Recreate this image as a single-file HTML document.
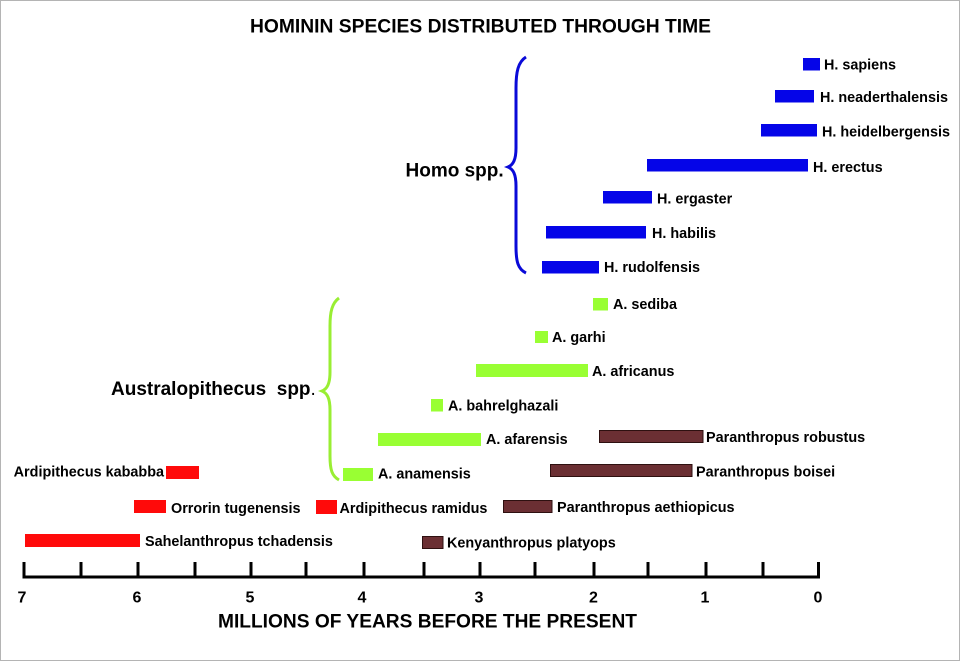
<!DOCTYPE html>
<html><head><meta charset="utf-8"><style>
html,body{margin:0;padding:0;background:#fff;}
svg{display:block;}
text{font-family:"Liberation Sans",Arial,sans-serif;font-weight:bold;fill:#000;}
.l{font-size:14.4px;}
</style></head><body>
<svg width="960" height="661" viewBox="0 0 960 661" xmlns="http://www.w3.org/2000/svg">
<rect x="0.5" y="0.5" width="959" height="660" fill="#fff" stroke="#b4b4b4" stroke-width="1"/>
<text x="250" y="32.3" font-size="19.5" textLength="461" lengthAdjust="spacingAndGlyphs">HOMININ SPECIES DISTRIBUTED THROUGH TIME</text>

<!-- braces -->
<path d="M526,57 C518,62 516,72 516,88 L516,148 C516,160 513,165 508,167 C513,169 516,174 516,186 L516,246 C516,262 518,269 526,273" fill="none" stroke="#0a0ad8" stroke-width="3"/>
<text x="405.5" y="176.7" font-size="19">Homo spp.</text>
<path d="M339,298 C332,303 330,312 330,326 L330,372 C330,384 327,389 322,391 C327,393 330,398 330,410 L330,456 C330,470 332,476 339,480" fill="none" stroke="#99ee33" stroke-width="3"/>
<text x="111" y="395" font-size="19" xml:space="preserve">Australopithecus  spp<tspan font-weight="normal">.</tspan></text>

<!-- Homo bars -->
<g fill="#0505e8">
<rect x="803" y="58" width="17" height="12.5"/>
<rect x="775" y="90" width="39" height="12.5"/>
<rect x="761" y="124" width="56" height="12.5"/>
<rect x="647" y="159" width="161" height="12.5"/>
<rect x="603" y="191" width="49" height="12.5"/>
<rect x="546" y="226" width="100" height="12.5"/>
<rect x="542" y="261" width="57" height="12.5"/>
</g>
<text class="l" x="824" y="69.3">H. sapiens</text>
<text class="l" x="820" y="102">H. neaderthalensis</text>
<text class="l" x="822" y="136.5">H. heidelbergensis</text>
<text class="l" x="813" y="172">H. erectus</text>
<text class="l" x="657" y="203.5">H. ergaster</text>
<text class="l" x="652" y="238">H. habilis</text>
<text class="l" x="604" y="272">H. rudolfensis</text>

<!-- Australopithecus bars -->
<g fill="#99ff33">
<rect x="593" y="298" width="15" height="12.5"/>
<rect x="535" y="331" width="13" height="12"/>
<rect x="476" y="364" width="112" height="13"/>
<rect x="431" y="399" width="12" height="12.5"/>
<rect x="378" y="433" width="103" height="13"/>
<rect x="343" y="468" width="30" height="13"/>
</g>
<text class="l" x="613" y="309">A. sediba</text>
<text class="l" x="552" y="342">A. garhi</text>
<text class="l" x="592" y="376">A. africanus</text>
<text class="l" x="448" y="410.5">A. bahrelghazali</text>
<text class="l" x="486" y="444">A. afarensis</text>
<text class="l" x="378" y="478.5">A. anamensis</text>

<!-- Paranthropus bars -->
<g fill="#6b2f33" stroke="#2e1010" stroke-width="1">
<rect x="599.5" y="430.5" width="103.5" height="12"/>
<rect x="550.5" y="464.5" width="141.5" height="12"/>
<rect x="503.5" y="500.5" width="48.5" height="12"/>
<rect x="422.5" y="536.5" width="20.5" height="12"/>
</g>
<text class="l" x="706" y="442">Paranthropus robustus</text>
<text class="l" x="696" y="476.5">Paranthropus boisei</text>
<text class="l" x="557" y="512">Paranthropus aethiopicus</text>
<text class="l" x="447" y="547.5">Kenyanthropus platyops</text>

<!-- early hominins -->
<g fill="#ff0a0a">
<rect x="166" y="466" width="33" height="13"/>
<rect x="134" y="500" width="32" height="13"/>
<rect x="316" y="500" width="21" height="14"/>
<rect x="25" y="534" width="115" height="13"/>
</g>
<text class="l" x="164" y="476.7" text-anchor="end">Ardipithecus kababba</text>
<text class="l" x="171" y="513">Orrorin tugenensis</text>
<text class="l" x="339.5" y="513">Ardipithecus ramidus</text>
<text class="l" x="145" y="546">Sahelanthropus tchadensis</text>

<!-- axis -->
<line x1="22.5" y1="577" x2="820" y2="577" stroke="#000" stroke-width="3"/>
<g stroke="#000" stroke-width="3">
<line x1="24" y1="562" x2="24" y2="578"/>
<line x1="81" y1="562" x2="81" y2="578"/>
<line x1="138" y1="562" x2="138" y2="578"/>
<line x1="195" y1="562" x2="195" y2="578"/>
<line x1="251" y1="562" x2="251" y2="578"/>
<line x1="306" y1="562" x2="306" y2="578"/>
<line x1="364" y1="562" x2="364" y2="578"/>
<line x1="424" y1="562" x2="424" y2="578"/>
<line x1="480" y1="562" x2="480" y2="578"/>
<line x1="535" y1="562" x2="535" y2="578"/>
<line x1="594" y1="562" x2="594" y2="578"/>
<line x1="648" y1="562" x2="648" y2="578"/>
<line x1="706" y1="562" x2="706" y2="578"/>
<line x1="763" y1="562" x2="763" y2="578"/>
<line x1="818.5" y1="562" x2="818.5" y2="578"/>
</g>
<g font-size="16" text-anchor="middle">
<text x="22" y="602.7">7</text>
<text x="137" y="602.7">6</text>
<text x="250" y="602.7">5</text>
<text x="362" y="602.7">4</text>
<text x="479" y="602.7">3</text>
<text x="593.5" y="602.7">2</text>
<text x="705" y="602.7">1</text>
<text x="818" y="602.7">0</text>
</g>
<text x="218" y="627.5" font-size="19" textLength="419" lengthAdjust="spacingAndGlyphs">MILLIONS OF YEARS BEFORE THE PRESENT</text>
</svg>
</body></html>
